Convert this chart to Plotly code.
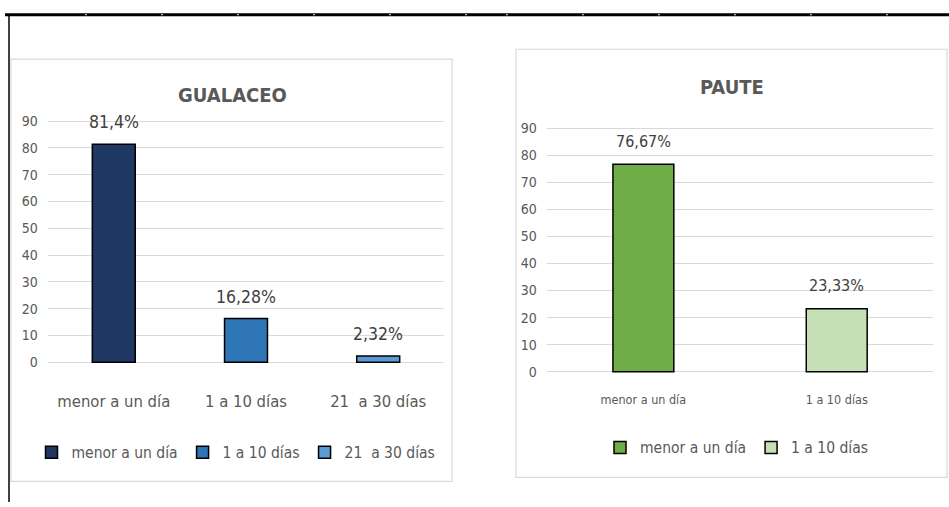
import plotly.graph_objects as go

W, H = 949, 507

# Data
gua_categories = ["menor a un día", "1 a 10 días", "21\u00a0 a 30 días"]
gua_values = [81.4, 16.28, 2.32]
gua_colors = ["#203864", "#2E75B6", "#5B9BD5"]

pau_categories = ["menor a un día", "1 a 10 días"]
pau_values = [76.67, 23.33]
pau_colors = ["#70AD47", "#C5E0B4"]

y_ticks = [0, 10, 20, 30, 40, 50, 60, 70, 80, 90]

FONT = "DejaVu Sans Condensed, Liberation Sans Narrow, sans-serif"
GRAY = "#595959"
LABEL = "#404040"
GRID = "#D9D9D9"


def px_x(p):
    return p / W


def px_y(p):
    return (H - p) / H


def pct_label(v):
    return f"{v:g}".replace(".", ",") + "%"


fig = go.Figure()

# GUALACEO bars, one trace per category so each gets its own legend entry
for cat, val, col in zip(gua_categories, gua_values, gua_colors):
    fig.add_trace(go.Bar(
        x=[cat], y=[val], name=cat, width=0.325,
        marker=dict(color=col, line=dict(color="#000000", width=1.5)),
        xaxis="x", yaxis="y", legend="legend",
    ))

# PAUTE bars
for cat, val, col in zip(pau_categories, pau_values, pau_colors):
    fig.add_trace(go.Bar(
        x=[cat], y=[val], name=cat, width=0.315,
        marker=dict(color=col, line=dict(color="#000000", width=1.5)),
        xaxis="x2", yaxis="y2", legend="legend2",
    ))

annotations = []
for cat, val in zip(gua_categories, gua_values):
    annotations.append(dict(
        x=cat, y=val, xref="x", yref="y", text=pct_label(val),
        showarrow=False, yanchor="bottom", yshift=10,
        font=dict(family=FONT, size=17.5, color=LABEL),
    ))
for cat, val in zip(pau_categories, pau_values):
    annotations.append(dict(
        x=cat, y=val, xref="x2", yref="y2", text=pct_label(val),
        showarrow=False, yanchor="bottom", yshift=11.5,
        font=dict(family=FONT, size=16, color=LABEL),
    ))

# Chart titles
annotations.append(dict(
    x=px_x(232), y=px_y(93), xref="paper", yref="paper", text="<b>GUALACEO</b>",
    showarrow=False, xanchor="center", yanchor="middle",
    font=dict(family=FONT, size=20, color=GRAY),
))
annotations.append(dict(
    x=px_x(732), y=px_y(85), xref="paper", yref="paper", text="<b>PAUTE</b>",
    showarrow=False, xanchor="center", yanchor="middle",
    font=dict(family=FONT, size=20, color=GRAY),
))

shapes = [
    # chart area frames
    dict(type="rect", xref="paper", yref="paper",
         x0=px_x(11), x1=px_x(452), y0=px_y(486), y1=px_y(57),
         line=dict(color=GRID, width=1.2), fillcolor="rgba(0,0,0,0)", layer="below"),
    dict(type="rect", xref="paper", yref="paper",
         x0=px_x(516), x1=px_x(947), y0=px_y(482), y1=px_y(47),
         line=dict(color=GRID, width=1.2), fillcolor="rgba(0,0,0,0)", layer="below"),
    # page edges
    dict(type="line", xref="paper", yref="paper",
         x0=px_x(5), x1=1, y0=px_y(12), y1=px_y(12),
         line=dict(color="#000000", width=3)),
    dict(type="line", xref="paper", yref="paper",
         x0=px_x(9), x1=px_x(9), y0=px_y(12), y1=0,
         line=dict(color="#000000", width=1.5)),
]
for tx in [86, 162, 238, 314, 390, 466, 507, 583, 659, 735, 811, 887]:
    shapes.append(dict(type="rect", xref="paper", yref="paper",
                       x0=px_x(tx - 1), x1=px_x(tx + 1), y0=px_y(12.5), y1=px_y(11.5),
                       line=dict(width=0), fillcolor="#E0E0E0"))

yaxis_common = dict(
    range=[-1, 92], tickvals=y_ticks, showgrid=True, gridcolor=GRID, gridwidth=1.2,
    zeroline=False, showline=False, ticks="", ticklabelstandoff=9,
    tickfont=dict(family=FONT, size=14, color=GRAY), fixedrange=True,
)
xaxis_common = dict(
    type="category", showgrid=False, zeroline=False, showline=False, ticks="",
    fixedrange=True,
)

fig.update_layout(
    width=W, height=H, margin=dict(l=0, r=0, t=0, b=0),
    paper_bgcolor="white", plot_bgcolor="white",
    barmode="overlay", showlegend=True,
    xaxis=dict(**xaxis_common, domain=[px_x(47.7), px_x(444.3)], anchor="y",
               range=[-0.5, 2.5], ticklabelstandoff=25,
               tickfont=dict(family=FONT, size=16.5, color=GRAY)),
    yaxis=dict(**yaxis_common, domain=[px_y(367.7), px_y(114.6)], anchor="x"),
    xaxis2=dict(**xaxis_common, domain=[px_x(546.7), px_x(933.4)], anchor="y2",
                range=[-0.5, 1.5], ticklabelstandoff=16,
                tickfont=dict(family=FONT, size=12.5, color=GRAY)),
    yaxis2=dict(**yaxis_common, domain=[px_y(377.4), px_y(121.8)], anchor="x2"),
    legend=dict(orientation="h", x=px_x(236), y=px_y(457), xanchor="center",
                yanchor="middle", font=dict(family=FONT, size=15.5, color=GRAY),
                itemwidth=30, bgcolor="rgba(0,0,0,0)", traceorder="normal"),
    legend2=dict(orientation="h", x=px_x(737), y=px_y(452), xanchor="center",
                 yanchor="middle", font=dict(family=FONT, size=15.5, color=GRAY),
                 itemwidth=30, bgcolor="rgba(0,0,0,0)", traceorder="normal"),
    annotations=annotations, shapes=shapes,
    font=dict(family=FONT, color=GRAY),
)

fig.write_html("out.html")
